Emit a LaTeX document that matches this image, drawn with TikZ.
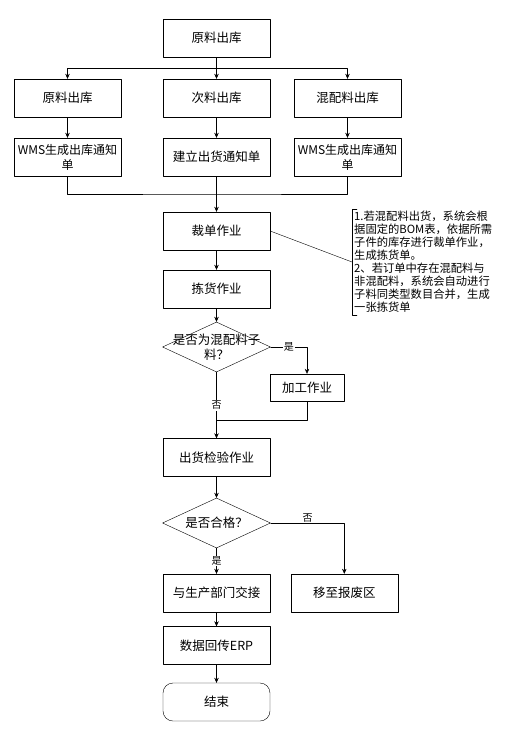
\documentclass[tikz,border=0pt]{standalone}
\usepackage{fontspec}
\setmainfont{Noto Sans CJK SC}
\usetikzlibrary{shapes.geometric,arrows.meta}

\tikzset{
  box/.style={draw, minimum width=107pt, minimum height=38pt, inner sep=1pt, align=center, font=\fontsize{12.5}{15}\selectfont},
  smallbox/.style={box, minimum width=74pt, minimum height=27pt},
  dec/.style={diamond, draw, aspect=2.16, minimum width=108pt, minimum height=50pt, inner sep=0pt, font=\fontsize{12.5}{15}\selectfont},
  endbox/.style={box, rounded corners=10pt},
  memo/.style={align=left, inner sep=2pt, font=\fontsize{11.3}{13}\selectfont},
  yn/.style={fill=white, inner sep=1pt, font=\fontsize{10}{12}\selectfont},
  arr/.style={-{Stealth[length=5pt,width=4.5pt]}},
}

\begin{document}
\begin{tikzpicture}[x=1pt, y=-1pt, line cap=round, line join=round]
  \useasboundingbox (0,0) rectangle (513,732);

  \def\mx{216.5}  % main column
  \def\lx{67.5}
  \def\rx{347.5}

  \node[box] (src) at (\mx,38) {原料出库};
  \node[box] (rawA) at (\lx,98) {原料出库};
  \node[box] (subA) at (\mx,98) {次料出库};
  \node[box] (mixA) at (\rx,98) {混配料出库};
  \node[box, font=\fontsize{12}{15}\selectfont] (rawB) at (\lx,157) {WMS生成出库通知\\单};
  \node[box] (subB) at (\mx,157) {建立出货通知单};
  \node[box, font=\fontsize{12}{15}\selectfont] (mixB) at (\rx,157) {WMS生成出库通知\\单};
  \node[box] (cut) at (\mx,231) {裁单作业};
  \node[box] (pick) at (\mx,289) {拣货作业};
  \node[dec, label={[align=center, font=\fontsize{12.5}{15}\selectfont]center:是否为混配料子\\料？}] (isMix) at (\mx,347) {};
  \node[smallbox] (proc) at (307,387.5) {加工作业};
  \node[box] (check) at (\mx,457.5) {出货检验作业};
  \node[dec] (isOk) at (\mx,523) {是否合格？};
  \node[box] (hand) at (\mx,593) {与生产部门交接};
  \node[box] (scrap) at (344.3,593) {移至报废区};
  \node[box] (erp) at (\mx,645.5) {数据回传ERP};
  \node[endbox] (stop) at (\mx,702) {结束};

  \node[memo, anchor=west] (note) at (352,262) {1.若混配料出货，系统会根\\据固定的BOM表，依据所需\\子件的库存进行裁单作业，\\生成拣货单。\\2、若订单中存在混配料与\\非混配料，系统会自动进行\\子料同类型数目合并，生成\\一张拣货单};
  \draw ([xshift=5pt]note.north west) -- (note.north west) -- (note.south west) -- ([xshift=5pt]note.south west);

  \coordinate (split) at (\mx,68);
  \coordinate (merge) at (\mx,194);
  \coordinate (join) at (\mx,420);

  \draw (src) -- (split);
  \draw[arr] (split) -| (rawA);
  \draw[arr] (split) -- (subA);
  \draw[arr] (split) -| (mixA);
  \draw[arr] (rawA) -- (rawB);
  \draw[arr] (subA) -- (subB);
  \draw[arr] (mixA) -- (mixB);
  \draw (rawB) |- (merge) -| (mixB);
  \draw[arr] (subB) -- (cut);
  \draw (cut.east) -- (note.west);
  \draw[arr] (cut) -- (pick);
  \draw[arr] (pick) -- (isMix);
  \draw[arr] (isMix) -| node[yn, pos=0.25] {是} (proc);
  \draw[arr] (isMix) -- node[yn] {否} (check);
  \draw (proc) |- (join);
  \draw[arr] (check) -- (isOk);
  \draw[arr] (isOk) -| node[yn, pos=0.25, yshift=5pt] {否} (scrap);
  \draw[arr] (isOk) -- node[yn] {是} (hand);
  \draw[arr] (hand) -- (erp);
  \draw[arr] (erp) -- (stop);
\end{tikzpicture}
\end{document}
